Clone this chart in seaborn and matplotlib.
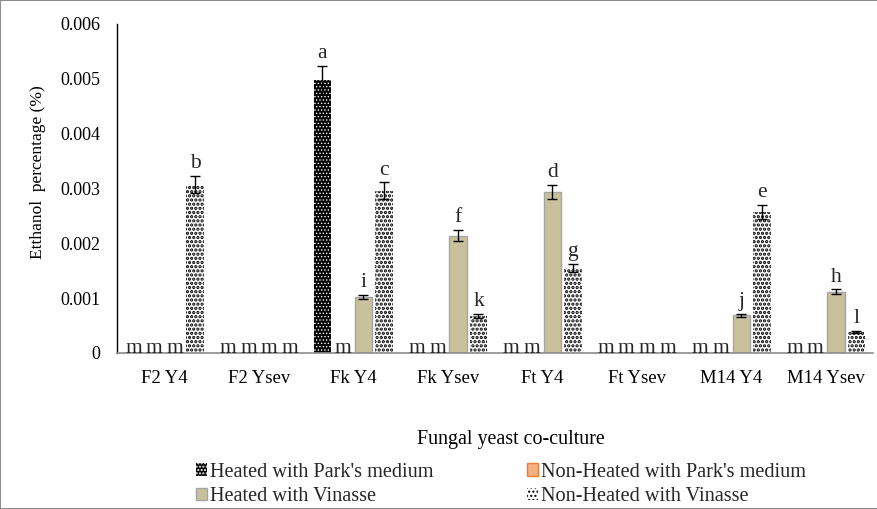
import matplotlib
matplotlib.use("Agg")
import matplotlib.pyplot as plt
from matplotlib.patches import Patch
from matplotlib.ticker import FuncFormatter
import seaborn as sns
import pandas as pd

# Ethanol yield per fungal/yeast co-culture and treatment
cultures = ["F2 Y4", "F2 Ysev", "Fk Y4", "Fk Ysev", "Ft Y4", "Ft Ysev", "M14 Y4", "M14 Ysev"]
treatments = ["Heated with Park's medium", "Non-Heated with Park's medium",
              "Heated with Vinasse", "Non-Heated with Vinasse"]

heated_park = [0.0, 0.0, 0.00498, 0.0, 0.0, 0.0, 0.0, 0.0]
nonheated_park = [0.0, 0.0, 0.0, 0.0, 0.0, 0.0, 0.0, 0.0]
heated_vinasse = [0.0, 0.0, 0.00102, 0.00214, 0.00293, 0.0, 0.00069, 0.00112]
nonheated_vinasse = [0.00307, 0.0, 0.00296, 0.00067, 0.00155, 0.0, 0.00257, 0.00038]

heated_park_err = [0.0, 0.0, 0.00026, 0.0, 0.0, 0.0, 0.0, 0.0]
nonheated_park_err = [0.0, 0.0, 0.0, 0.0, 0.0, 0.0, 0.0, 0.0]
heated_vinasse_err = [0.0, 0.0, 0.00004, 0.0001, 0.00013, 0.0, 0.00003, 0.00004]
nonheated_vinasse_err = [0.00016, 0.0, 0.00015, 0.00004, 0.00008, 0.0, 0.00013, 0.00002]

heated_park_sig = ["m", "m", "a", "m", "m", "m", "m", "m"]
nonheated_park_sig = ["m", "m", "m", "m", "m", "m", "m", "m"]
heated_vinasse_sig = ["m", "m", "i", "f", "d", "m", "j", "h"]
nonheated_vinasse_sig = ["b", "m", "c", "k", "g", "m", "e", "l"]

values = [heated_park, nonheated_park, heated_vinasse, nonheated_vinasse]
errors = [heated_park_err, nonheated_park_err, heated_vinasse_err, nonheated_vinasse_err]
letters = [heated_park_sig, nonheated_park_sig, heated_vinasse_sig, nonheated_vinasse_sig]

rows = []
for t, vals in zip(treatments, values):
    for c, v in zip(cultures, vals):
        rows.append({"culture": c, "treatment": t, "ethanol": v})
df = pd.DataFrame(rows)

sns.set_theme(style="white")
plt.rcParams["font.family"] = ["Liberation Serif", "DejaVu Serif"]
plt.rcParams["hatch.linewidth"] = 1.0

styles = [
    dict(facecolor="black", edgecolor="white", linewidth=0, hatch=".....", hlw=0.6),
    dict(facecolor="#F4B183", edgecolor="#ED7D31", linewidth=1.0, hatch=None, hlw=1.0),
    dict(facecolor="#C9C19B", edgecolor="#A5A5A5", linewidth=1.0, hatch=None, hlw=1.0),
    dict(facecolor="white", edgecolor="black", linewidth=0, hatch="....", hlw=1.6),
]


def apply_style(p, st):
    p.set_facecolor(st["facecolor"])
    p.set_edgecolor(st["edgecolor"])
    p.set_linewidth(st["linewidth"])
    if st["hatch"]:
        p.set_hatch(st["hatch"])
        if hasattr(p, "set_hatch_linewidth"):
            p.set_hatch_linewidth(st["hlw"])


fig = plt.figure(figsize=(8.78, 5.09), dpi=100)
fig.patch.set_edgecolor("#8c8c8c")
fig.patch.set_linewidth(1.2)
ax = fig.add_axes([0.1333, 0.3065, 0.8607, 0.6465])

sns.barplot(data=df, x="culture", y="ethanol", hue="treatment", hue_order=treatments,
            order=cultures, width=0.87, gap=0.15, errorbar=None, ax=ax)

for container, st, errs, labs in zip(ax.containers, styles, errors, letters):
    for bar, err, lab in zip(container, errs, labs):
        apply_style(bar, st)
        x = bar.get_x() + bar.get_width() / 2
        h = bar.get_height()
        if h > 0:
            ax.errorbar(x, h, yerr=err, fmt="none", ecolor="black",
                        elinewidth=1.0, capsize=3.5, capthick=1.0, zorder=5)
            ax.annotate(lab, (x, h + err), xytext=(0, 2), textcoords="offset points",
                        ha="center", va="bottom", fontsize=15.5)
        else:
            ax.text(x, 0, lab, ha="center", va="baseline", fontsize=15.5, zorder=6)

ax.set_ylim(0, 0.006)
ax.set_yticks([0, 0.001, 0.002, 0.003, 0.004, 0.005, 0.006])
ax.yaxis.set_major_formatter(FuncFormatter(lambda v, p: "0" if v == 0 else f"{v:.3f}"))
ax.set_xlim(-0.5, len(cultures) - 0.5)

ax.tick_params(axis="y", length=0, pad=12, labelsize=13, colors="black")
ax.tick_params(axis="x", length=0, pad=12, labelsize=13.5, colors="black")

ax.set_ylabel("Etthanol  percentage (%)", fontsize=12.5, color="black")
ax.yaxis.set_label_coords(-0.094, 0.55)
ax.set_xlabel("Fungal yeast co-culture", fontsize=14.4, color="black")
ax.xaxis.set_label_coords(0.521, -0.235)

for side in ["top", "right"]:
    ax.spines[side].set_visible(False)
ax.spines["left"].set_color("black")
ax.spines["left"].set_linewidth(1.0)
ax.spines["bottom"].set_color("#8c8c8c")
ax.spines["bottom"].set_linewidth(1.2)

if ax.get_legend() is not None:
    ax.get_legend().remove()

handles = []
for st, t in zip(styles, treatments):
    h = Patch(label=t)
    apply_style(h, st)
    handles.append(h)
order = [0, 2, 1, 3]
fig.legend([handles[i] for i in order], [treatments[i] for i in order],
           ncol=2, loc="upper left", bbox_to_anchor=(0.223, 0.091), frameon=False,
           fontsize=14.6, handlelength=0.55, handleheight=0.55, handletextpad=0.15,
           columnspacing=4.6, labelspacing=0.26, borderpad=0, borderaxespad=0)

fig.savefig("out.png", dpi=100)
